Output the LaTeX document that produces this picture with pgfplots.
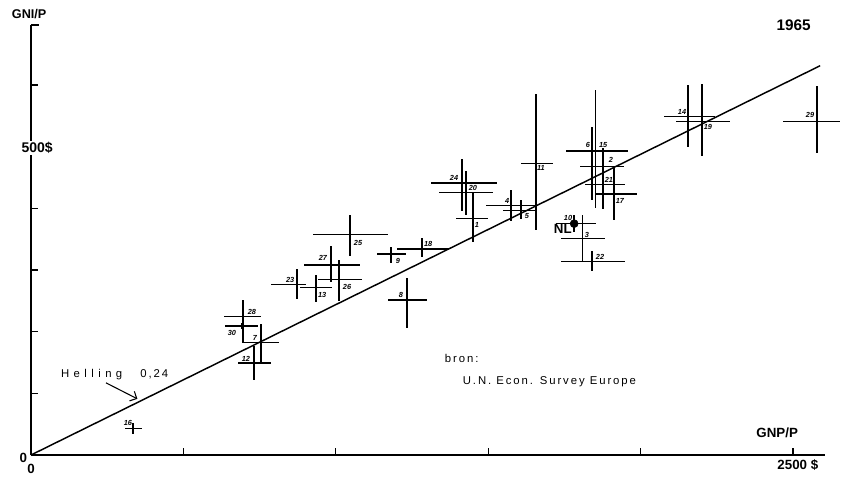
\documentclass[border=0pt]{standalone}
\usepackage{pgfplots}
\pgfplotsset{compat=1.18}
\usepackage{pgfplotstable}
\usetikzlibrary{arrows.meta}
\usepackage{fontspec}
\setmainfont{Liberation Sans}
\newfontfamily\spaced[LetterSpace=17]{Liberation Sans}
\newfontfamily\wide[LetterSpace=39]{Liberation Sans}

% countries: centre, bar lengths (plus/minus), label position
\pgfplotstableread{
nr  x     y     xp   xm   yp   ym   lx     ly
25  1047  357   124  122  32   34   1073   344
27  984   308   95   88   31   28   958    319
26  1011  285   75   69   31   36   1037   272
23  873   276   30   85   26   23   850    284
13  935   271   52   53   21   23   955    259
28  695   224   60   61   28   42   725    232
30  692   209   53   56   5    5    659    198
7   755   182   59   59   30   35   735    190
12  732   149   55   54   28   28   705    156
9   1181  326   49   46   11   15   1204   314
18  1283  334   89   82   18   13   1303   342
8   1234  251   66   63   36   45   1214   259
24  1414  441   115  102  39   45   1388   449
20  1427  425   89   89   35   36   1450   433
1   1450  383   49   56   42   37   1463   373
4   1575  404   85   82   25   24   1562   412
5   1608  396   52   59   18   13   1627   387
11  1657  473   56   49   112  109  1673   465
10  1782  375   72   59   14   14   1762   384
3   1810  351   73   71   38   36   1824   357
22  1841  314   108  102  16   16   1867   321
6   1841  493   118  85   38   80   1827   502
15  1851  493   81   50   98   93   1877   502
2   1877  468   69   76   29   70   1903   478
21  1877  439   72   59   23   34   1896   446
17  1913  423   76   62   45   42   1932   412
14  2156  549   89   79   50   49   2136   556
19  2201  541   92   85   60   57   2221   532
29  2579  541   76   112  57   52   2556   551
16  335   43    30   26   9    9    318    52
}\crosses

\begin{document}
\begin{tikzpicture}
\useasboundingbox (-23.25pt,-15.75pt) rectangle (624.75pt,341.25pt);
\begin{axis}[
  at={(0,0)}, anchor=south west,
  scale only axis, width=595.5pt, height=322.5pt,
  xmin=0, xmax=2605, ymin=0, ymax=697,
  axis x line=bottom, axis y line=left,
  axis line style={-, line width=1.2pt},
  xtick={500,1000,...,2500}, ytick={100,200,300,400,600},
  xticklabels={}, yticklabels={},
  tick align=inside, major tick length=5pt,
  tick style={line width=1pt, black},
  clip=false,
]
% regression line
\addplot[black, line width=1.1pt] coordinates {(0,0) (2589,631)};

% crosses
\addplot[draw=none, mark=none,
  error bars/.cd, x dir=both, x explicit, y dir=both, y explicit,
  error mark=none, error bar style={draw=black, line width=1pt}]
  table[x=x, y=y, x error plus=xp, x error minus=xm,
        y error plus=yp, y error minus=ym] {\crosses};

% small numbers
\addplot[draw=none, mark=none, point meta=explicit symbolic, nodes near coords,
  every node near coord/.append style={anchor=center, inner sep=0pt,
    font=\fontsize{5.5}{6}\selectfont\bfseries\itshape}]
  table[x=lx, y=ly, meta=nr] {\crosses};

% NL
\addplot[only marks, mark=*, mark size=3pt, black] coordinates {(1782,375)};
\node[font=\bfseries\fontsize{10}{12}\selectfont] at (axis cs:1745,366) {NL};

\draw[line width=1.2pt] (axis cs:0,697) -- (axis cs:26,697);
\node[fill=white, inner sep=1pt, font=\bfseries\fontsize{10.5}{12}\selectfont] at (axis cs:20,498) {500\$};
\node[font=\bfseries\fontsize{9.5}{11}\selectfont] at (axis cs:-6,715) {GNI/P};
\node[font=\bfseries\fontsize{11.5}{13}\selectfont] at (axis cs:2502,697) {1965};
\node[font=\bfseries\fontsize{10}{12}\selectfont] at (axis cs:-25,-4) {0};
\node[font=\bfseries\fontsize{10}{12}\selectfont] at (axis cs:0,-22) {0};
\node[font=\bfseries\fontsize{10}{12}\selectfont] at (axis cs:2448,36) {GNP/P};
\node[font=\bfseries\fontsize{10}{12}\selectfont] at (axis cs:2516,-17) {2500 \$};

\node[anchor=west, inner sep=0pt, font=\wide\fontsize{8.5}{10}\selectfont] at (axis cs:98,131) {Helling};
\node[anchor=west, inner sep=0pt, font=\spaced\fontsize{8.5}{10}\selectfont] at (axis cs:358,131) {0,24};
\draw[line width=0.8pt, -{Straight Barb[length=4pt]}] (axis cs:246,117) -- (axis cs:349,91);

\node[anchor=west, inner sep=0pt, font=\spaced\fontsize{8.5}{10}\selectfont] at (axis cs:1357,157) {bron:};
\node[anchor=west, inner sep=0pt, font=\spaced\fontsize{8.5}{10}\selectfont] at (axis cs:1416,119) {U.N. Econ. Survey Europe};
\end{axis}
\end{tikzpicture}
\end{document}
